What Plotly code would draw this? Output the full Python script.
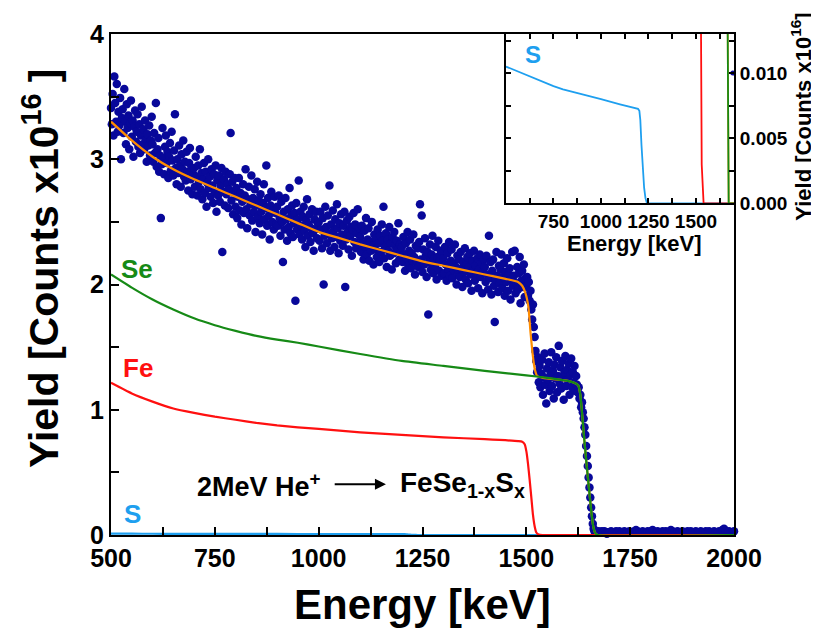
import numpy as np
import plotly.graph_objects as go

# ---------------- measured spectrum (channel energies in keV) ----------------
energy_main = np.arange(500, 1700, 2)
counts_main = [
    # 500-598
    3.41, 3.28, 3.52, 3.19, 3.66, 3.45, 3.30, 3.60, 3.22, 3.38,
    3.27, 3.49, 3.00, 3.33, 3.40, 3.21, 3.56, 3.30, 3.12, 3.44,
    3.25, 3.35, 3.08, 3.29, 3.47, 3.18, 3.31, 3.02, 3.26, 3.39,
    3.14, 3.22, 3.36, 3.10, 3.28, 3.05, 3.19, 3.42, 3.12, 3.24,
    3.08, 3.31, 3.16, 2.98, 3.20, 3.11, 3.27, 3.03, 3.15, 3.34,
    # 600-698
    3.12, 2.98, 3.21, 3.05, 3.45, 2.94, 3.08, 3.17, 2.90, 3.03,
    2.53, 2.96, 3.25, 3.01, 2.88, 3.10, 3.19, 2.97, 3.06, 2.85,
    3.02, 3.13, 2.91, 3.22, 2.99, 2.87, 3.07, 3.36, 2.93, 2.80,
    3.00, 2.89, 3.11, 2.95, 2.78, 3.04, 2.92, 3.15, 2.86, 2.98,
    2.83, 3.06, 2.90, 2.75, 2.97, 3.09, 2.84, 2.93, 2.72, 2.88,
    # 700-798
    2.93, 2.78, 3.02, 2.86, 2.71, 2.95, 2.82, 3.08, 2.76, 2.89,
    2.68, 2.84, 2.97, 2.73, 2.90, 2.62, 2.81, 3.00, 2.77, 2.86,
    2.70, 2.92, 2.79, 2.65, 2.88, 2.74, 2.95, 2.58, 2.83, 2.71,
    2.87, 2.66, 2.79, 2.93, 2.26, 2.74, 2.84, 2.63, 2.90, 2.72,
    2.80, 2.61, 2.76, 2.88, 3.21, 2.67, 2.82, 2.56, 2.74, 2.85,
    # 800-898
    2.62, 2.77, 2.53, 2.70, 2.85, 2.59, 2.73, 2.48, 2.66, 2.80,
    2.57, 2.71, 2.92, 2.60, 2.45, 2.68, 2.78, 2.55, 2.64, 2.87,
    2.51, 2.69, 2.58, 2.76, 2.42, 2.63, 2.82, 2.54, 2.67, 2.49,
    2.72, 2.58, 2.40, 2.65, 2.80, 2.52, 2.61, 2.95, 2.47, 2.69,
    2.55, 2.36, 2.63, 2.74, 2.50, 2.59, 2.44, 2.70, 2.57, 2.48,
    # 900-998
    2.62, 2.47, 2.71, 2.53, 2.39, 2.66, 2.50, 2.18, 2.58, 2.44,
    2.69, 2.52, 2.35, 2.60, 2.46, 2.77, 2.41, 2.55, 2.63, 2.38,
    2.49, 2.57, 1.87, 2.65, 2.44, 2.52, 2.83, 2.40, 2.58, 2.47,
    2.36, 2.54, 2.62, 2.43, 2.30, 2.51, 2.68, 2.39, 2.48, 2.56,
    2.34, 2.45, 2.60, 2.41, 2.27, 2.52, 2.44, 2.58, 2.37, 2.49,
    # 1000-1098
    2.50, 2.35, 2.58, 2.44, 2.29, 2.53, 2.00, 2.39, 2.62, 2.46,
    2.33, 2.55, 2.41, 2.79, 2.27, 2.48, 2.37, 2.59, 2.43, 2.30,
    2.52, 2.38, 2.64, 2.45, 2.25, 2.49, 2.35, 2.56, 2.40, 2.31,
    2.47, 2.58, 1.98, 2.36, 2.51, 2.42, 2.28, 2.54, 2.39, 2.46,
    2.23, 2.44, 2.57, 2.34, 2.48, 2.29, 2.41, 2.60, 2.32, 2.45,
    # 1100-1198
    2.38, 2.26, 2.47, 2.33, 2.20, 2.43, 2.30, 2.53, 2.24, 2.36,
    2.45, 2.19, 2.34, 2.27, 2.50, 2.31, 2.16, 2.40, 2.28, 2.37,
    2.22, 2.44, 2.33, 2.18, 2.39, 2.26, 2.48, 2.35, 2.62, 2.21,
    2.30, 2.41, 2.14, 2.36, 2.27, 2.46, 2.23, 2.33, 2.12, 2.38,
    2.25, 2.42, 2.31, 2.17, 2.35, 2.28, 2.49, 2.20, 2.32, 2.26,
    # 1200-1298
    2.30, 2.18, 2.38, 2.24, 2.11, 2.33, 2.21, 2.42, 2.15, 2.27,
    2.36, 2.13, 2.25, 2.19, 2.40, 2.22, 2.08, 2.31, 2.17, 2.29,
    2.14, 2.34, 2.64, 2.20, 2.55, 2.10, 2.28, 2.16, 2.37, 2.23,
    2.06, 2.26, 1.76, 2.18, 2.32, 2.12, 2.24, 2.39, 2.09, 2.21,
    2.15, 2.30, 2.04, 2.22, 2.35, 2.11, 2.19, 2.27, 2.07, 2.25,
    # 1300-1398
    2.21, 2.09, 2.30, 2.16, 2.03, 2.25, 2.12, 2.34, 2.07, 2.19,
    2.28, 2.05, 2.17, 2.11, 2.32, 2.14, 2.00, 2.23, 2.09, 2.20,
    2.06, 2.26, 2.13, 1.98, 2.18, 2.10, 2.29, 2.04, 2.16, 2.22,
    2.01, 2.14, 2.25, 2.08, 1.95, 2.19, 2.11, 2.27, 2.03, 2.15,
    2.09, 2.21, 1.97, 2.12, 2.24, 2.06, 2.17, 1.93, 2.10, 2.20,
    # 1400-1498
    2.14, 2.02, 2.23, 2.08, 1.96, 2.39, 2.05, 2.18, 1.92, 2.11,
    2.20, 1.99, 1.70, 2.04, 2.26, 2.07, 1.94, 2.15, 2.01, 2.12,
    2.24, 1.97, 2.06, 2.17, 1.91, 2.10, 2.02, 2.21, 1.95, 2.08,
    2.13, 1.88, 2.04, 2.26, 1.99, 2.07, 2.27, 1.93, 2.01, 2.14,
    1.96, 2.09, 2.22, 1.85, 2.03, 2.11, 1.98, 2.16, 1.90, 2.05,
    # 1500-1598
    1.98, 2.06, 1.91, 2.02, 1.87, 1.95, 1.80, 1.72, 1.84, 1.66,
    1.58, 1.47, 1.39, 1.30, 1.42, 1.22, 1.35, 1.18, 1.29, 1.40,
    1.12, 1.26, 1.45, 1.20, 1.05, 1.33, 1.24, 1.38, 1.15, 1.28,
    1.46, 1.19, 1.31, 1.09, 1.36, 1.25, 1.42, 1.14, 1.27, 1.51,
    1.21, 1.34, 1.17, 1.39, 1.26, 1.08, 1.30, 1.43, 1.19, 1.32,
    # 1600-1698
    1.24, 1.37, 1.12, 1.28, 1.41, 1.18, 1.30, 1.22, 1.35, 1.15,
    1.27, 1.20, 1.14, 1.18, 1.09, 1.12, 1.02, 1.06, 0.98, 0.93,
    0.86, 0.80, 0.71, 0.63, 0.55, 0.46, 0.38, 0.30, 0.22, 0.15,
    0.09, 0.05, 0.03, 0.02, 0.03, 0.02, 0.02, 0.03, 0.02, 0.02,
    0.02, 0.03, 0.02, 0.02, 0.03, 0.02, 0.02, 0.01, 0.02, 0.02,
]
energy_tail = np.arange(1700, 2001, 4)
counts_tail = [
    0.02, 0.03, 0.02, 0.02, 0.03, 0.02, 0.03, 0.02, 0.02, 0.03,
    0.02, 0.02, 0.03, 0.02, 0.02, 0.03, 0.04, 0.03, 0.02, 0.02,
    0.03, 0.02, 0.02, 0.03, 0.02, 0.03, 0.04, 0.02, 0.02, 0.03,
    0.02, 0.02, 0.03, 0.02, 0.03, 0.02, 0.02, 0.04, 0.03, 0.02,
    0.02, 0.03, 0.02, 0.02, 0.03, 0.02, 0.02, 0.03, 0.02, 0.03,
    0.02, 0.02, 0.03, 0.02, 0.02, 0.03, 0.02, 0.02, 0.03, 0.02,
    0.03, 0.02, 0.02, 0.03, 0.02, 0.02, 0.03, 0.02, 0.04, 0.05,
    0.03, 0.02, 0.03, 0.02, 0.02, 0.03,
]

# ---------------- simulated curves ----------------
fit_energy = [500, 550, 600, 650, 700, 750, 800, 850, 900, 950, 1000, 1050, 1100, 1150, 1200,
              1250, 1300, 1350, 1400, 1450, 1480, 1490, 1498, 1505, 1510, 1515, 1520, 1526,
              1540, 1600, 1615, 1625, 1630, 1634, 1638, 1644, 1650, 1656, 1661, 1666, 1672, 2000]
fit_total = [3.30, 3.15, 3.02, 2.92, 2.84, 2.77, 2.70, 2.63, 2.56, 2.49, 2.42, 2.37, 2.32, 2.275,
             2.23, 2.185, 2.15, 2.115, 2.08, 2.045, 2.02, 1.99, 1.93, 1.82, 1.62, 1.45, 1.33, 1.27,
             1.255, 1.23, 1.215, 1.195, 1.12, 0.98, 0.82, 0.60, 0.40, 0.20, 0.07, 0.015, 0.0, 0.0]

se_energy = [500, 550, 600, 650, 700, 750, 800, 850, 900, 950, 1000, 1100, 1200, 1300, 1400,
             1500, 1550, 1600, 1615, 1625, 1630, 1634, 1638, 1644, 1650, 1656, 1661, 1666,
             1672, 2000]
se_yield = [2.08, 1.975, 1.88, 1.80, 1.73, 1.675, 1.63, 1.59, 1.56, 1.535, 1.505, 1.445, 1.39,
            1.35, 1.31, 1.275, 1.255, 1.23, 1.215, 1.195, 1.12, 0.98, 0.82, 0.60, 0.40, 0.20,
            0.07, 0.015, 0.0, 0.0]

fe_energy = [500, 550, 600, 650, 700, 750, 800, 850, 900, 950, 1000, 1100, 1200, 1300, 1400,
             1480, 1490, 1496, 1500, 1504, 1508, 1512, 1516, 1520, 1524, 1530, 1540, 2000]
fe_yield = [1.215, 1.13, 1.065, 1.01, 0.975, 0.945, 0.92, 0.895, 0.875, 0.86, 0.848, 0.82, 0.80,
            0.78, 0.765, 0.75, 0.745, 0.725, 0.67, 0.57, 0.44, 0.30, 0.16, 0.07, 0.02, 0.003,
            0.0, 0.0]

s_energy = [500, 550, 600, 650, 700, 750, 800, 900, 1000, 1100, 1195, 1202, 1207, 1213, 1220,
            1227, 1234, 1242, 2000]
s_yield = [0.0105, 0.0102, 0.0099, 0.0096, 0.00925, 0.0090, 0.00875, 0.0084, 0.0080, 0.0076,
           0.00725, 0.0071, 0.0064, 0.0045, 0.0028, 0.0012, 0.0004, 0.0, 0.0]

# ---------------- styles ----------------
FONT = "Liberation Sans, Arial, sans-serif"
C_DATA = "#08089A"
C_FIT = "#FF8C00"
C_SE = "#168A16"
C_FE = "#FF1010"
C_S = "#1E9FEF"

fig = go.Figure()

all_e = list(energy_main) + list(energy_tail)
all_c = counts_main + counts_tail
curves = [(s_energy, s_yield, C_S), (fe_energy, fe_yield, C_FE),
          (fit_energy, fit_total, C_FIT), (se_energy, se_yield, C_SE)]

# main panel
fig.add_trace(go.Scatter(x=all_e, y=all_c, mode="markers", marker=dict(color=C_DATA, size=8.5),
                         cliponaxis=False, xaxis="x", yaxis="y", showlegend=False))
for ex, ey, col in curves:
    fig.add_trace(go.Scatter(x=ex, y=ey, mode="lines",
                             line=dict(color=col, width=2.2, shape="spline", smoothing=0.5),
                             cliponaxis=False, xaxis="x", yaxis="y", showlegend=False))

# inset panel
fig.add_trace(go.Scatter(x=all_e, y=all_c, mode="markers", marker=dict(color=C_DATA, size=5),
                         xaxis="x2", yaxis="y2", showlegend=False))
for ex, ey, col in curves:
    fig.add_trace(go.Scatter(x=ex, y=ey, mode="lines",
                             line=dict(color=col, width=1.8),
                             xaxis="x2", yaxis="y2", showlegend=False))

tick_main = dict(family=FONT, size=25, color="black", weight="bold")
tick_inset = dict(family=FONT, size=19, color="black", weight="bold")

# the page adds an 8 px body margin, so the margins are shifted by 8 px
fig.update_layout(
    width=819, height=635,
    margin=dict(l=103, r=93, t=24, b=108),
    paper_bgcolor="white", plot_bgcolor="white",
    font=dict(family=FONT, color="black", weight="bold"),
    xaxis=dict(domain=[0, 1], range=[500, 2000], tickmode="linear", tick0=500, dtick=250,
               ticks="inside", ticklen=8, tickwidth=2, tickcolor="black",
               showline=True, linewidth=2, linecolor="black", mirror=True,
               showgrid=False, zeroline=False, tickfont=tick_main,
               minor=dict(tickmode="linear", tick0=500, dtick=125, ticks="inside",
                          ticklen=8, tickwidth=2, tickcolor="black", showgrid=False)),
    yaxis=dict(domain=[0, 1], range=[0, 4], tickmode="linear", tick0=0, dtick=1,
               ticks="inside", ticklen=8, tickwidth=2, tickcolor="black",
               showline=True, linewidth=2, linecolor="black", mirror=True,
               showgrid=False, zeroline=False, tickfont=tick_main,
               minor=dict(tickmode="linear", tick0=0, dtick=0.5, ticks="inside",
                          ticklen=8, tickwidth=2, tickcolor="black", showgrid=False)),
    xaxis2=dict(domain=[0.634, 1.0], range=[500, 1700], anchor="y2",
                tickmode="array", tickvals=[750, 1000, 1250, 1500],
                ticktext=["750", "1000", "1250", "1500"],
                ticks="inside", ticklen=5, tickwidth=2, tickcolor="black",
                showline=True, linewidth=2, linecolor="black", mirror="ticks",
                showgrid=False, zeroline=False, tickfont=tick_inset,
                minor=dict(tickmode="linear", tick0=500, dtick=125, ticks="inside",
                           ticklen=5, tickwidth=2, tickcolor="black", showgrid=False)),
    yaxis2=dict(domain=[0.662, 1.0], range=[0, 0.013], anchor="x2", side="right",
                tickmode="array", tickvals=[0, 0.005, 0.010],
                ticktext=["0.000", "0.005", "0.010"],
                ticks="inside", ticklen=5, tickwidth=2, tickcolor="black",
                showline=True, linewidth=2, linecolor="black", mirror="ticks",
                showgrid=False, zeroline=False, tickfont=tick_inset,
                minor=dict(tickmode="linear", tick0=0, dtick=0.0025, ticks="inside",
                           ticklen=5, tickwidth=2, tickcolor="black", showgrid=False)),
)

ann = []
# axis titles
ann.append(dict(text="<b>Energy [keV]</b>", xref="paper", yref="paper", x=0.5, y=-0.139,
                showarrow=False, font=dict(family=FONT, size=42, color="black"),
                xanchor="center", yanchor="middle"))
ann.append(dict(text="<b>Yield [Counts x10<sup>16</sup> ]</b>", xref="paper", yref="paper",
                x=-0.1124, y=0.533, textangle=-90, showarrow=False,
                font=dict(family=FONT, size=41, color="black"),
                xanchor="center", yanchor="middle"))
ann.append(dict(text="<b>Energy [keV]</b>", xref="paper", yref="paper", x=0.8395, y=0.582,
                showarrow=False, font=dict(family=FONT, size=22, color="black"),
                xanchor="center", yanchor="middle"))
ann.append(dict(text="<b>Yield [Counts x10<sup>16</sup>]</b>", xref="paper", yref="paper",
                x=1.1075, y=0.835, textangle=-90, showarrow=False,
                font=dict(family=FONT, size=22, color="black"),
                xanchor="center", yanchor="middle"))
# element labels
ann.append(dict(text="<b>Se</b>", xref="x", yref="y", x=519, y=2.12, xanchor="left",
                yanchor="middle", showarrow=False, font=dict(family=FONT, size=26, color=C_SE)))
ann.append(dict(text="<b>Fe</b>", xref="x", yref="y", x=524, y=1.33, xanchor="left",
                yanchor="middle", showarrow=False, font=dict(family=FONT, size=26, color=C_FE)))
ann.append(dict(text="<b>S</b>", xref="x", yref="y", x=526, y=0.17, xanchor="left",
                yanchor="middle", showarrow=False, font=dict(family=FONT, size=26, color=C_S)))
ann.append(dict(text="<b>S</b>", xref="x2", yref="y2", x=590, y=0.0114, xanchor="left",
                yanchor="middle", showarrow=False, font=dict(family=FONT, size=24, color=C_S)))
# beam annotation
ann.append(dict(text="<b>2MeV He<sup>+</sup></b>", xref="x", yref="y", x=703, y=0.40,
                xanchor="left", yanchor="middle", showarrow=False,
                font=dict(family=FONT, size=27, color="black")))
ann.append(dict(text="", xref="x", yref="y", x=1162, y=0.405, ax=1035, ay=0.405,
                axref="x", ayref="y", showarrow=True, arrowhead=2, arrowsize=1,
                arrowwidth=2.2, arrowcolor="black"))
ann.append(dict(text="<b>FeSe<sub>1-x</sub>S<sub>x</sub></b>", xref="x", yref="y", x=1190, y=0.40,
                xanchor="left", yanchor="middle", showarrow=False,
                font=dict(family=FONT, size=28, color="black")))
fig.update_layout(annotations=ann)

fig.write_html("out.html")
